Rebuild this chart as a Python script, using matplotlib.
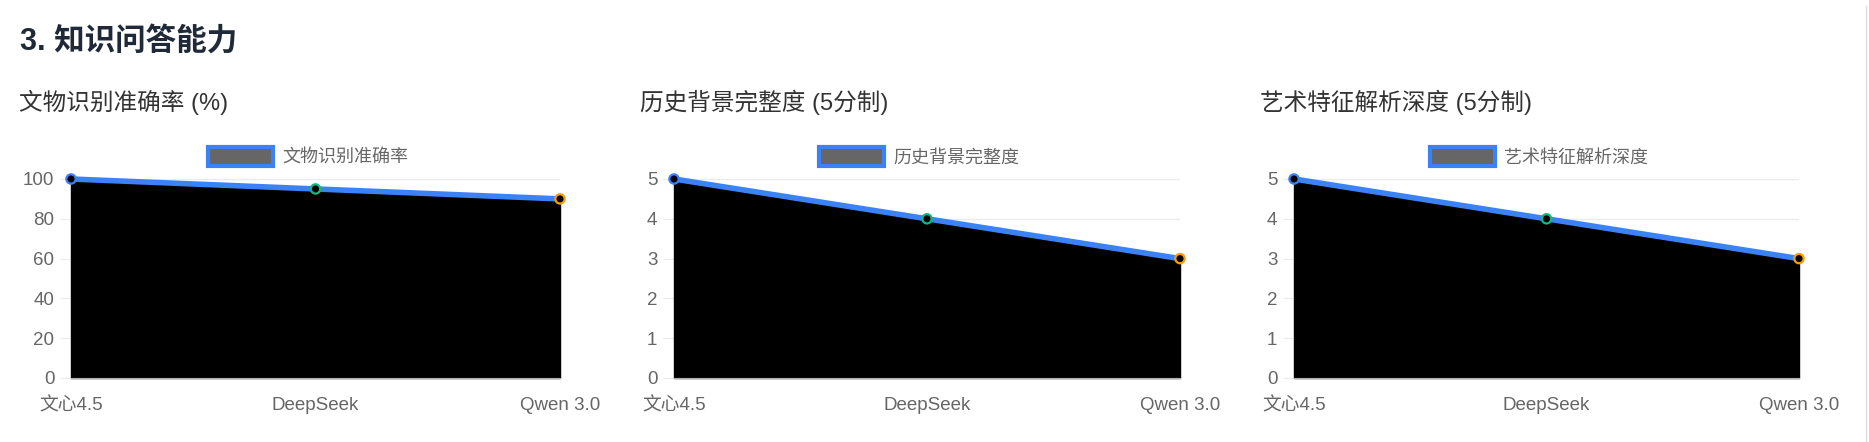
import matplotlib
matplotlib.use("Agg")
from matplotlib import pyplot as plt
from matplotlib.patches import Patch
from matplotlib.lines import Line2D

plt.rcParams['font.family'] = ['Liberation Sans', 'Noto Sans CJK SC', 'DejaVu Sans']

# data
models = ['文心4.5', 'DeepSeek', 'Qwen 3.0']
accuracy = [100, 95, 90]
history = [5, 4, 3]
art_depth = [5, 4, 3]

titles = ['文物识别准确率 (%)', '历史背景完整度 (5分制)', '艺术特征解析深度 (5分制)']
labels = ['文物识别准确率', '历史背景完整度', '艺术特征解析深度']
series = [accuracy, history, art_depth]
yticks = [range(0, 101, 20), range(0, 6), range(0, 6)]
ymax = [100, 5, 5]

point_edges = ['#3b82f6', '#10b981', '#f59e0b']
line_color = '#3b82f6'

W, H = 1869, 442
fig = plt.figure(figsize=(W / 100, H / 100), dpi=100)

# plot areas in pixels: (left, right)
areas = [(71, 560), (674, 1180), (1294, 1799)]
top, bottom = 179, 378
title_x = [19, 640, 1260]

fig.text(20 / W, 1 - 43 / H, '3. 知识问答能力', fontsize=22, fontweight='bold',
         color='#1f2937', va='center', ha='left')

for i in range(3):
    l, r = areas[i]
    ax = fig.add_axes([l / W, 1 - bottom / H, (r - l) / W, (bottom - top) / H])
    x = list(range(len(models)))
    y = series[i]
    ax.fill_between(x, y, 0, color='black', zorder=1)
    ax.plot(x, y, color=line_color, lw=4, zorder=3, solid_capstyle='round')
    ax.scatter(x, y, s=45, facecolor='black', edgecolor=point_edges, linewidth=1.6, zorder=4)

    ax.set_xlim(0, len(models) - 1)
    ax.set_ylim(0, ymax[i])
    ax.set_yticks(list(yticks[i]))
    ax.set_xticks(x)
    ax.set_xticklabels(models)
    ax.grid(axis='y', color='#ebebeb', lw=1, zorder=0)
    ax.set_axisbelow(True)
    for s in ['top', 'right', 'left']:
        ax.spines[s].set_visible(False)
    ax.spines['bottom'].set_color('#b0b0b0')
    ax.tick_params(axis='y', length=8, color='#ebebeb', labelsize=13.5,
                   labelcolor='#666666', pad=4)
    ax.tick_params(axis='x', length=0, labelsize=13.5, labelcolor='#666666', pad=14)
    for c in ax.collections:
        c.set_clip_on(False)
    for ln in ax.lines:
        ln.set_clip_on(False)

    fig.text(title_x[i] / W, 1 - 102 / H, titles[i], fontsize=17, color='#333333',
             va='center', ha='left')

    handle = Patch(facecolor='#666666', edgecolor=line_color, linewidth=3)
    ax.legend([handle], [labels[i]], loc='lower center', bbox_to_anchor=(0.485, 1.0),
              frameon=False, fontsize=13, labelcolor='#666666', handlelength=3.6,
              handleheight=1.2, handletextpad=0.5, borderaxespad=0.3)

# card border on the right
fig.add_artist(Line2D([1866 / W, 1866 / W], [0, 1 - 6 / H], color='#dddddd', lw=1))

fig.savefig('out.png', dpi=100, facecolor='white')
